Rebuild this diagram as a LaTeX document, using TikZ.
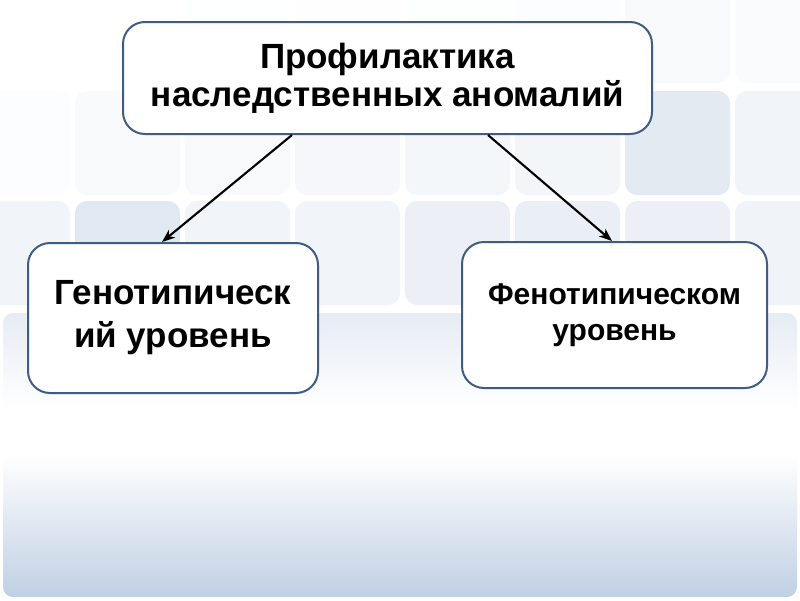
\documentclass[tikz,border=0pt]{standalone}
\usepackage{fontspec}
\setmainfont{Liberation Sans}
\usetikzlibrary{arrows.meta}
\definecolor{bordc}{RGB}{62,92,132}
\definecolor{panelbot}{RGB}{192,208,227}
\definecolor{panelmid}{RGB}{224,232,242}
\definecolor{paneltop}{RGB}{230,236,244}
\definecolor{tilec}{RGB}{205,217,232}
\pgfdeclareverticalshading{panelshade}{100bp}{color(0bp)=(panelbot); color(25bp)=(panelbot); color(38bp)=(panelmid); color(50bp)=(white); color(58bp)=(white); color(75bp)=(paneltop); color(100bp)=(paneltop)}
\tikzset{
  tile/.style={rounded corners=12pt},
  box/.style={draw=bordc, line width=2pt, fill=white, rounded corners=22pt, align=center, inner sep=0pt},
  arr/.style={line width=2.1pt, draw=black, -{Stealth[length=13pt,width=10pt,inset=4pt]}}
}
\begin{document}
\begin{tikzpicture}[x=1pt,y=-1pt]
\useasboundingbox (0,0) rectangle (800,600);
\fill[white] (0,0) rectangle (800,600);
% tiles
\foreach \x/\i in {-35/0,75/0,185/1,295/2,405/3,515/5,625/16,735/10}
  \fill[tile, tilec!\i!white] (\x,-20) rectangle ++(105,103);
\foreach \x/\i in {-35/6,75/14,185/17,295/20,405/22,515/24,625/55,735/28}
  \fill[tile, tilec!\i!white] (\x,91) rectangle ++(105,104);
\foreach \x/\i in {-35/28,75/62,185/28,295/28,405/38,515/42,625/38,735/30}
  \fill[tile, tilec!\i!white] (\x,201) rectangle ++(105,104);
% bottom panel
\shade[shading=panelshade, rounded corners=10pt] (3,313) rectangle (797,597);
% boxes
\node[box, minimum width=529pt, minimum height=112pt, font=\fontsize{35}{38}\selectfont\bfseries] (top) at (387.5,78) {Профилактика\\наследственных аномалий};
\node[box, minimum width=290pt, minimum height=150pt, font=\fontsize{35}{43}\selectfont\bfseries] (L) at (173,318) {Генотипическ\\ий уровень};
\node[box, minimum width=305pt, minimum height=146pt, font=\fontsize{30}{36}\selectfont\bfseries] (R) at (614.5,315) {Фенотипическом\\уровень};
% arrows
\draw[arr] ([xshift=-95.5pt]top.south) -- ([xshift=-11pt]L.north);
\draw[arr] ([xshift=100.5pt]top.south) -- ([xshift=-2.5pt]R.north);
\end{tikzpicture}
\end{document}
